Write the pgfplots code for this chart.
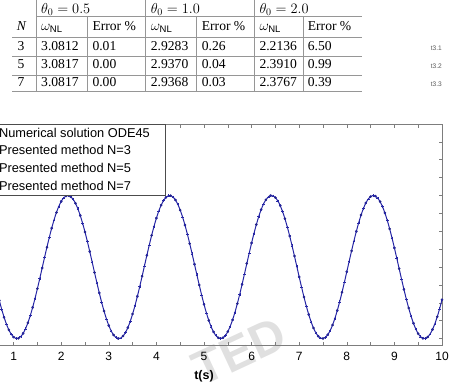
\documentclass[border=0pt]{standalone}
\usepackage{fontspec}
\setmainfont{Liberation Sans}
\newfontfamily\tabfont{Liberation Serif}
\usepackage{pgfplots}
\pgfplotsset{compat=1.18}
\usepackage{pgfplotstable}
\definecolor{mblue}{RGB}{38,38,165}
\definecolor{tline}{RGB}{150,150,150}
\definecolor{frame}{RGB}{125,125,125}

\pgfplotstableread{
t y
0.00 1.0000
0.05 0.9892
0.10 0.9572
0.15 0.9045
0.20 0.8324
0.25 0.7423
0.30 0.6363
0.35 0.5166
0.40 0.3857
0.45 0.2466
0.50 0.1021
0.55 -0.0445
0.60 -0.1902
0.65 -0.3318
0.70 -0.4663
0.75 -0.5907
0.80 -0.7024
0.85 -0.7990
0.90 -0.8784
0.95 -0.9389
1.00 -0.9791
1.05 -0.9983
1.10 -0.9960
1.15 -0.9723
1.20 -0.9276
1.25 -0.8630
1.30 -0.7798
1.35 -0.6798
1.40 -0.5651
1.45 -0.4383
1.50 -0.3021
1.55 -0.1594
1.60 -0.0132
1.65 0.1333
1.70 0.2769
1.75 0.4145
1.80 0.5432
1.85 0.6602
1.90 0.7630
1.95 0.8494
2.00 0.9174
2.05 0.9658
2.10 0.9933
2.15 0.9995
2.20 0.9842
2.25 0.9476
2.30 0.8907
2.35 0.8146
2.40 0.7210
2.45 0.6118
2.50 0.4895
2.55 0.3566
2.60 0.2161
2.65 0.0709
2.70 -0.0758
2.75 -0.2209
2.80 -0.3613
2.85 -0.4938
2.90 -0.6157
2.95 -0.7244
3.00 -0.8175
3.05 -0.8930
3.10 -0.9492
3.15 -0.9850
3.20 -0.9997
3.25 -0.9928
3.30 -0.9645
3.35 -0.9155
3.40 -0.8467
3.45 -0.7598
3.50 -0.6564
3.55 -0.5390
3.60 -0.4099
3.65 -0.2721
3.70 -0.1283
3.75 0.0182
3.80 0.1643
3.85 0.3068
3.90 0.4428
3.95 0.5692
4.00 0.6834
4.05 0.7829
4.10 0.8655
4.15 0.9295
4.20 0.9734
4.25 0.9965
4.30 0.9980
4.35 0.9781
4.40 0.9372
4.45 0.8760
4.50 0.7960
4.55 0.6989
4.60 0.5867
4.65 0.4619
4.70 0.3272
4.75 0.1854
4.80 0.0396
4.85 -0.1071
4.90 -0.2514
4.95 -0.3903
5.00 -0.5208
5.05 -0.6401
5.10 -0.7457
5.15 -0.8351
5.20 -0.9066
5.25 -0.9586
5.30 -0.9900
5.35 -1.0000
5.40 -0.9885
5.45 -0.9557
5.50 -0.9024
5.55 -0.8296
5.60 -0.7390
5.65 -0.6325
5.70 -0.5123
5.75 -0.3811
5.80 -0.2418
5.85 -0.0972
5.90 0.0495
5.95 0.1951
6.00 0.3365
6.05 0.4707
6.10 0.5947
6.15 0.7060
6.20 0.8020
6.25 0.8808
6.30 0.9406
6.35 0.9801
6.40 0.9986
6.45 0.9956
6.50 0.9711
6.55 0.9258
6.60 0.8605
6.65 0.7766
6.70 0.6761
6.75 0.5610
6.80 0.4339
6.85 0.2974
6.90 0.1545
6.95 0.0082
7.00 -0.1382
7.05 -0.2816
7.10 -0.4190
7.15 -0.5473
7.20 -0.6639
7.25 -0.7662
7.30 -0.8520
7.35 -0.9194
7.40 -0.9671
7.45 -0.9939
7.50 -0.9993
7.55 -0.9833
7.60 -0.9460
7.65 -0.8884
7.70 -0.8117
7.75 -0.7175
7.80 -0.6079
7.85 -0.4851
7.90 -0.3520
7.95 -0.2112
8.00 -0.0659
8.05 0.0808
8.10 0.2258
8.15 0.3659
8.20 0.4981
8.25 0.6197
8.30 0.7278
8.35 0.8203
8.40 0.8952
8.45 0.9508
8.50 0.9859
8.55 0.9998
8.60 0.9921
8.65 0.9632
8.70 0.9134
8.75 0.8441
8.80 0.7565
8.85 0.6527
8.90 0.5348
8.95 0.4054
9.00 0.2673
9.05 0.1234
9.10 -0.0231
9.15 -0.1692
9.20 -0.3116
9.25 -0.4473
9.30 -0.5733
9.35 -0.6870
9.40 -0.7860
9.45 -0.8680
9.50 -0.9313
9.55 -0.9746
9.60 -0.9969
9.65 -0.9977
9.70 -0.9771
9.75 -0.9354
9.80 -0.8736
9.85 -0.7930
9.90 -0.6953
9.95 -0.5827
10.00 -0.4575
}\ode

\begin{document}
\begin{tikzpicture}
\useasboundingbox (0pt,0pt) rectangle (474pt,384pt);
\clip (0pt,0pt) rectangle (474pt,384pt);
% ---------- table ----------
\begin{scope}[x=1pt,y=1pt]
\node[rotate=25, anchor=base east, inner sep=0pt, text=black!12, font=\fontsize{48}{48}\selectfont\bfseries] at (290,38) {TED};
\begin{scope}[tline, line width=0.7pt]
\draw (36,367.3) -- (362,367.3);
\foreach \yy in {347,327.3,309,292.3} \draw (12,\yy) -- (362,\yy);
\foreach \xx in {36,145.7,254.3} \draw (\xx,384) -- (\xx,292.3);
\foreach \xx in {87.3,196.7,303.3} \draw (\xx,367.3) -- (\xx,292.3);
\end{scope}
\begin{scope}[every node/.style={anchor=base west, inner sep=0pt, font=\tabfont\fontsize{13.6}{15}\selectfont}]
\node at (41,370.7) {$\theta_0 = 0.5$};
\node at (150.7,370.7) {$\theta_0 = 1.0$};
\node at (259.3,370.7) {$\theta_0 = 2.0$};
\node at (16.7,353.3) {\itshape N};
\node at (41,353.3) {$\omega_{\mathrm{NL}}$};
\node at (92.3,353.3) {Error \%};
\node at (150.7,353.3) {$\omega_{\mathrm{NL}}$};
\node at (201.7,353.3) {Error \%};
\node at (259.3,353.3) {$\omega_{\mathrm{NL}}$};
\node at (307.7,353.3) {Error \%};
\node at (17.3,334) {3};
\node at (41,334) {3.0812};
\node at (92.3,334) {0.01};
\node at (150.7,334) {2.9283};
\node at (201.7,334) {0.26};
\node at (259.3,334) {2.2136};
\node at (307.7,334) {6.50};
\node at (17.3,315.7) {5};
\node at (41,315.7) {3.0817};
\node at (92.3,315.7) {0.00};
\node at (150.7,315.7) {2.9370};
\node at (201.7,315.7) {0.04};
\node at (259.3,315.7) {2.3910};
\node at (307.7,315.7) {0.99};
\node at (17.3,298) {7};
\node at (41,298) {3.0817};
\node at (92.3,298) {0.00};
\node at (150.7,298) {2.9368};
\node at (201.7,298) {0.03};
\node at (259.3,298) {2.3767};
\node at (307.7,298) {0.39};
\end{scope}
\begin{scope}[every node/.style={anchor=base west, inner sep=0pt, text=black!65, font=\fontsize{6.6}{8}\selectfont}]
\node at (430.7,334) {t3.1};
\node at (430.7,315.7) {t3.2};
\node at (430.7,298) {t3.3};
\end{scope}
\end{scope}
% ---------- plot ----------
\begin{axis}[
  at={(-34pt,39pt)}, anchor=south west,
  scale only axis, width=476pt, height=221pt,
  xmin=0, xmax=10, ymin=-1.09, ymax=2,
  xtick={1,2,...,10}, minor x tick num=1,
  ytick={-1,-0.5,...,2}, minor y tick num=1, yticklabels={},
  tick align=inside, major tick length=3.5pt, minor tick length=3.5pt,
  axis line style={draw=frame, line width=0.7pt},
  every tick/.style={draw=frame, line width=0.6pt},
  every minor tick/.style={draw=frame, line width=0.6pt},
  /pgf/number format/assume math mode=true,
  xticklabel style={anchor=center, yshift=-11pt, font=\fontsize{12}{14}\selectfont},
  xlabel={\textbf{t(s)}},
  xlabel style={at={(axis description cs:0.5,0)}, anchor=center, yshift=-31pt, font=\fontsize{12.5}{14}\selectfont},
  legend cell align=left,
  legend style={at={(0.4195,1)}, anchor=north east, draw=black!70, line width=0.6pt,
    font=\fontsize{12.8}{14}\selectfont, row sep=3pt, inner xsep=13.5pt, inner ysep=1.5pt},
]
\addplot[mblue, line width=1pt, smooth] table[x=t,y=y]{\ode};
\addlegendentry{Numerical solution ODE45}
\addplot[only marks, mark=*, mark size=1.1pt, color=mblue!85!black, mark repeat=2, mark phase=1] table[x=t,y=y]{\ode};
\addlegendentry{Presented method N=3}
\addplot[only marks, mark=+, mark size=1.3pt, color=mblue, mark repeat=2, mark phase=2] table[x=t,y=y]{\ode};
\addlegendentry{Presented method N=5}
\addplot[only marks, mark=x, mark size=1.1pt, color=mblue, mark repeat=4, mark phase=1] table[x=t,y=y]{\ode};
\addlegendentry{Presented method N=7}
\end{axis}
\end{tikzpicture}
\end{document}
